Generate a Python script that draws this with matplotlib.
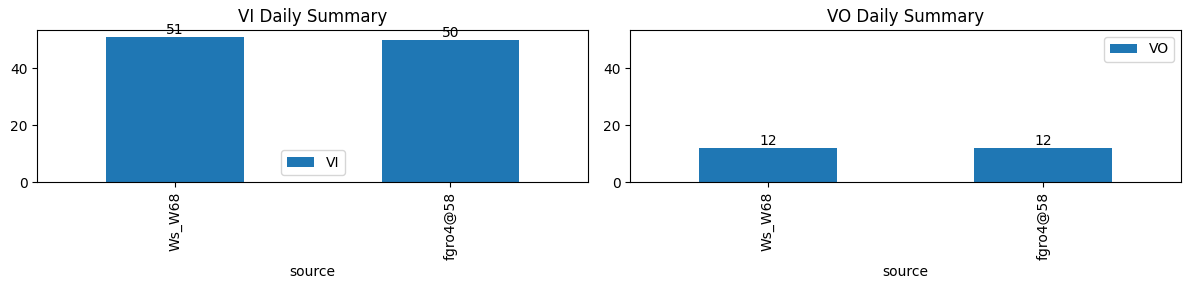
import matplotlib
matplotlib.use("Agg")
import matplotlib.pyplot as plt
import pandas as pd

# Data
sources = ["Ws_W68", "fgro4@58"]
vi_counts = [51, 50]
vo_counts = [12, 12]

df_vi = pd.DataFrame({"VI": vi_counts}, index=pd.Index(sources, name="source"))
df_vo = pd.DataFrame({"VO": vo_counts}, index=pd.Index(sources, name="source"))

fig, axes = plt.subplots(1, 2, figsize=(11.89, 2.9))

df_vi.plot(kind="bar", ax=axes[0], color="#1f77b4")
axes[0].set_title("VI Daily Summary")
axes[0].bar_label(axes[0].containers[0])
axes[0].legend(loc="lower center")

df_vo.plot(kind="bar", ax=axes[1], color="#1f77b4")
axes[1].set_title("VO Daily Summary")
axes[1].bar_label(axes[1].containers[0])
axes[1].legend(loc="upper right")

ymax = max(vi_counts + vo_counts) * 1.05
for ax in axes:
    ax.set_ylim(0, ymax)

fig.subplots_adjust(left=0.0314, right=0.9933, top=0.8966, bottom=0.3724,
                    wspace=0.0762)
plt.savefig("out.png", dpi=100)
